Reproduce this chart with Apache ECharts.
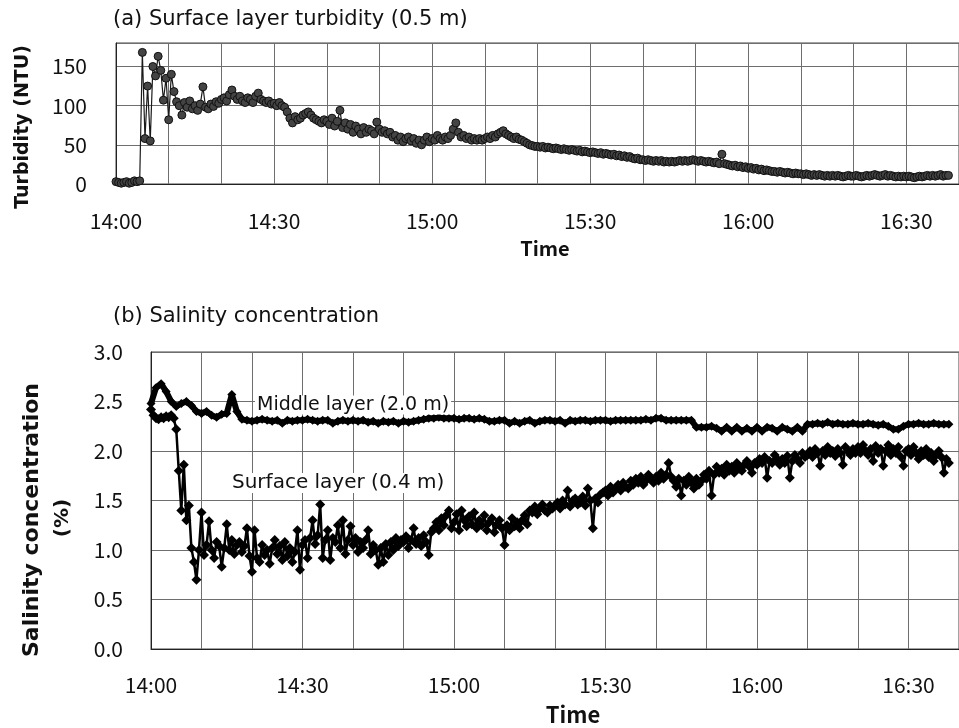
<!DOCTYPE html>
<html>
<head>
<meta charset="utf-8">
<script src="https://cdn.jsdelivr.net/npm/echarts@6/dist/echarts.min.js"></script>
<style>
html,body{margin:0;padding:0;background:#fff;}
#c{width:959px;height:728px;}
</style>
</head>
<body>
<div id="c"></div>
<script>
// minutes after 14:00 ; sampling steps
const startHour = 14;
const turbStep = 0.5;   // min between turbidity samples
const surfStep = 0.5;   // min between surface salinity samples
const midStep = 1;      // min between middle salinity samples

const timeTickLabels = ['14:00','14:30','15:00','15:30','16:00','16:30'];
const turbTicks = [0, 50, 100, 150];
const salTicks = [0.0, 0.5, 1.0, 1.5, 2.0, 2.5, 3.0];

// (a) surface layer turbidity (NTU), 0.5 m
const turbidity = [
 3,2,1,2,3,1,2,4,3,4,
 168,58,125,55,150,138,163,145,107,135,
 82,140,118,105,100,88,104,98,106,96,
 100,94,102,124,98,96,102,99,105,103,
 108,110,106,114,120,112,108,112,106,104,
 110,108,104,112,116,108,106,104,106,102,
 103,100,104,100,98,92,84,78,86,82,
 84,88,90,92,88,84,82,80,78,82,
 80,76,84,74,80,94,72,78,70,76,
 66,74,70,64,72,66,70,68,64,79,
 70,66,68,64,66,60,62,56,60,54,
 58,60,55,58,52,56,50,56,60,54,
 58,56,62,58,56,60,58,62,70,78,
 66,60,62,58,60,56,58,56,58,56,
 58,60,58,62,60,64,66,68,64,62,
 60,58,60,57,56,54,52,50,49,48,
 48,47,48,46,47,46,45,46,45,44,
 45,44,43,44,43,42,43,41,42,41,
 40,41,40,39,40,38,39,38,37,38,
 36,37,35,36,34,35,33,32,33,31,
 31,30,31,30,29,30,29,30,28,29,
 28,29,28,29,30,29,30,29,30,31,
 30,29,30,29,28,29,28,27,28,26,
 38,26,25,24,23,24,22,23,21,22,
 20,21,19,20,18,19,17,18,17,16,
 16,15,16,15,14,15,14,13,14,13,
 13,12,13,12,11,12,11,12,11,10,
 11,10,11,10,11,10,9,10,11,10,
 10,11,10,9,10,11,10,11,12,11,
 10,11,12,10,11,10,9,10,9,10,
 9,10,9,8,9,10,9,10,11,10,
 11,10,11,12,10,11,11
];

// (b) surface layer (0.4 m) salinity (%)
const surfaceSalinity = [
 2.42,2.36,2.33,2.32,2.34,2.33,2.35,2.34,2.36,2.33,
 2.22,1.80,1.40,1.86,1.30,1.45,1.02,0.88,0.70,1.00,
 1.38,0.95,1.05,1.29,1.00,0.92,1.08,1.04,0.83,1.02,
 1.26,1.00,1.10,0.96,1.05,1.08,0.98,1.04,1.22,0.94,
 0.78,1.20,0.92,0.88,1.05,0.95,1.00,0.86,1.02,1.10,
 0.96,1.04,0.90,1.08,0.94,1.02,0.88,0.98,1.20,0.80,
 1.05,1.10,0.92,1.12,1.30,1.06,1.15,1.46,0.92,1.10,
 1.20,0.90,1.12,1.08,1.25,1.02,1.30,0.96,1.10,1.24,
 1.05,1.12,0.98,1.08,1.02,1.10,1.20,0.96,1.05,1.00,
 0.85,1.02,0.88,1.06,0.95,1.08,1.00,1.12,1.04,1.10,
 1.08,1.14,1.02,1.10,1.22,1.06,1.12,1.04,1.15,1.08,
 0.95,1.18,1.22,1.28,1.20,1.32,1.25,1.35,1.40,1.22,
 1.28,1.36,1.20,1.40,1.30,1.24,1.34,1.26,1.38,1.22,
 1.30,1.25,1.35,1.20,1.28,1.32,1.18,1.26,1.30,1.22,
 1.05,1.25,1.20,1.32,1.24,1.28,1.22,1.30,1.35,1.26,
 1.40,1.38,1.44,1.36,1.42,1.46,1.40,1.38,1.45,1.42,
 1.45,1.48,1.42,1.50,1.46,1.60,1.44,1.50,1.52,1.46,
 1.48,1.54,1.45,1.62,1.50,1.22,1.52,1.48,1.56,1.58,
 1.60,1.55,1.64,1.58,1.62,1.66,1.60,1.68,1.64,1.62,
 1.70,1.66,1.72,1.68,1.74,1.66,1.70,1.76,1.72,1.68,
 1.74,1.70,1.78,1.72,1.76,1.88,1.74,1.70,1.64,1.72,
 1.55,1.70,1.66,1.74,1.68,1.62,1.72,1.66,1.70,1.76,
 1.72,1.80,1.55,1.76,1.84,1.78,1.82,1.76,1.86,1.80,
 1.84,1.78,1.88,1.82,1.80,1.86,1.90,1.84,1.78,1.88,
 1.86,1.92,1.88,1.94,1.73,1.90,1.88,1.96,1.92,1.86,
 1.92,1.88,1.95,1.73,1.90,1.96,1.92,1.88,1.98,1.94,
 1.96,2.00,1.94,2.02,1.98,1.85,2.00,1.96,2.04,1.98,
 2.00,1.95,2.02,1.98,1.86,2.04,2.00,1.96,2.02,1.98,
 2.04,1.98,2.06,2.00,1.96,2.02,1.90,2.05,1.98,2.02,
 1.85,2.00,2.06,1.96,2.02,1.98,2.04,1.94,1.85,2.00,
 2.02,1.96,2.04,1.98,1.92,2.00,1.96,2.02,1.94,1.98,
 1.90,1.96,2.00,1.94,1.78,1.92,1.88
];

// (b) middle layer (2.0 m) salinity (%)
const middleSalinity = [
 2.48,2.64,2.68,2.60,2.50,2.45,2.48,2.50,2.46,2.40,
 2.38,2.40,2.36,2.34,2.37,2.38,2.57,2.40,2.32,
 2.31,2.30,2.31,2.32,2.31,2.30,2.31,2.28,2.31,2.30,2.31,
 2.31,2.32,2.31,2.30,2.31,2.31,2.28,2.30,2.31,2.30,
 2.31,2.30,2.31,2.29,2.30,2.28,2.30,2.29,2.30,2.28,
 2.30,2.29,2.30,2.31,2.32,2.33,2.33,2.34,2.33,2.33,
 2.33,2.32,2.33,2.33,2.32,2.33,2.32,2.30,2.30,2.31,
 2.31,2.28,2.30,2.28,2.30,2.31,2.28,2.30,2.31,2.31,
 2.30,2.31,2.28,2.31,2.30,2.31,2.31,2.30,2.31,2.31,
 2.31,2.30,2.31,2.31,2.31,2.31,2.31,2.31,2.32,2.31,
 2.33,2.33,2.31,2.31,2.31,2.31,2.31,2.31,2.24,2.24,
 2.24,2.25,2.23,2.20,2.24,2.20,2.24,2.20,2.23,2.20,
 2.24,2.20,2.24,2.23,2.20,2.24,2.22,2.20,2.24,2.20,
 2.27,2.27,2.28,2.27,2.29,2.27,2.28,2.27,2.27,2.28,
 2.27,2.27,2.28,2.27,2.26,2.27,2.25,2.22,2.22,2.25,
 2.27,2.27,2.28,2.27,2.27,2.28,2.27,2.27,2.27
];

function pairs(arr, step){ return arr.map((v,i)=>[i*step, v]); }
function fmtTime(m){
  if (m % 30 !== 0) return '';
  const h = startHour + Math.floor(m/60);
  const mm = m % 60;
  const s = h + ':' + (mm<10?'0':'') + mm;
  return timeTickLabels.indexOf(s) >= 0 ? s : '';
}

const FONT = "'Noto Sans CJK JP', 'Noto Sans', sans-serif";
const TFONT = "'DejaVu Sans', sans-serif";
const gridLine = {show:true, lineStyle:{color:'#6e6e6e', width:1}};

const chart = echarts.init(document.getElementById('c'), null, {renderer:'canvas'});
chart.setOption({
  animation:false,
  backgroundColor:'#fff',
  grid:[
    {left:116, top:43, right:-10, bottom:544, containLabel:false, show:true, borderColor:'#444', borderWidth:1, backgroundColor:'transparent'},
    {left:151, top:352, right:-5, bottom:79, containLabel:false, show:true, borderColor:'#444', borderWidth:1, backgroundColor:'transparent'}
  ],
  xAxis:[
    {gridIndex:0, type:'value', min:0, max:160, interval:10,
     axisLine:{show:true, lineStyle:{color:'#222'}}, axisTick:{show:false},
     axisLabel:{formatter:fmtTime, margin:27, fontSize:21, color:'#111', fontFamily:FONT, showMaxLabel:false},
     splitLine:gridLine},
    {gridIndex:1, type:'value', min:0, max:160, interval:10,
     axisLine:{show:true, lineStyle:{color:'#222'}}, axisTick:{show:false},
     axisLabel:{formatter:fmtTime, margin:26, fontSize:21, color:'#111', fontFamily:FONT, showMaxLabel:false},
     splitLine:gridLine}
  ],
  yAxis:[
    {gridIndex:0, type:'value', min:0, max:180, interval:50,
     axisLine:{show:true, lineStyle:{color:'#222'}}, axisTick:{show:false},
     axisLabel:{margin:29, fontSize:21, color:'#111', fontFamily:FONT,
       formatter:v=> turbTicks.indexOf(v)>=0 ? String(v) : ''},
     splitLine:gridLine},
    {gridIndex:1, type:'value', min:0, max:3, interval:0.5,
     axisLine:{show:true, lineStyle:{color:'#222'}}, axisTick:{show:false},
     axisLabel:{margin:28, fontSize:21, color:'#111', fontFamily:FONT,
       formatter:v=> salTicks.indexOf(v)>=0 ? v.toFixed(1) : ''},
     splitLine:gridLine}
  ],
  series:[
    {type:'line', xAxisIndex:0, yAxisIndex:0, data:pairs(turbidity, turbStep),
     symbol:'circle', symbolSize:8, showAllSymbol:true,
     lineStyle:{color:'#1a1a1a', width:1.2},
     itemStyle:{color:'#444', borderColor:'#111', borderWidth:1}},
    {type:'line', xAxisIndex:1, yAxisIndex:1, data:pairs(middleSalinity, midStep),
     symbol:'diamond', symbolSize:9, showAllSymbol:true,
     lineStyle:{color:'#000', width:6},
     itemStyle:{color:'#000'}},
    {type:'line', xAxisIndex:1, yAxisIndex:1, data:pairs(surfaceSalinity, surfStep),
     symbol:'diamond', symbolSize:10, showAllSymbol:true,
     lineStyle:{color:'#000', width:2.5},
     itemStyle:{color:'#000'}}
  ],
  graphic:[
    {type:'text', x:113, y:20, style:{text:'(a) Surface layer turbidity (0.5 m)', font:'21px '+TFONT, fill:'#111', textVerticalAlign:'middle'}},
    {type:'text', x:113, y:317, style:{text:'(b) Salinity concentration', font:'21px '+TFONT, fill:'#111', textVerticalAlign:'middle'}},
    {type:'text', x:545, y:248, style:{text:'Time', font:'bold 20px '+FONT, fill:'#111', textAlign:'center', textVerticalAlign:'middle'}},
    {type:'text', x:573, y:715, style:{text:'Time', font:'bold 22px '+FONT, fill:'#111', textAlign:'center', textVerticalAlign:'middle'}},
    {type:'text', x:23, y:127, rotation:Math.PI/2, style:{text:'Turbidity (NTU)', font:'bold 19px '+TFONT, fill:'#111', textAlign:'center', textVerticalAlign:'middle'}},
    {type:'text', x:32, y:520, rotation:Math.PI/2, style:{text:'Salinity concentration', font:'bold 22px '+TFONT, fill:'#111', textAlign:'center', textVerticalAlign:'middle'}},
    {type:'text', x:63, y:518, rotation:Math.PI/2, style:{text:'(%)', font:'bold 20px '+TFONT, fill:'#111', textAlign:'center', textVerticalAlign:'middle'}},
    {type:'text', x:255, y:405, z:100, style:{text:'Middle layer (2.0 m)', font:'19px '+TFONT, fill:'#111', textVerticalAlign:'middle', backgroundColor:'#fff', padding:[0,2]}},
    {type:'text', x:230, y:483, z:100, style:{text:'Surface layer (0.4 m)', font:'20px '+TFONT, fill:'#111', textVerticalAlign:'middle', backgroundColor:'#fff', padding:[0,2]}}
  ]
});
</script>
</body>
</html>
